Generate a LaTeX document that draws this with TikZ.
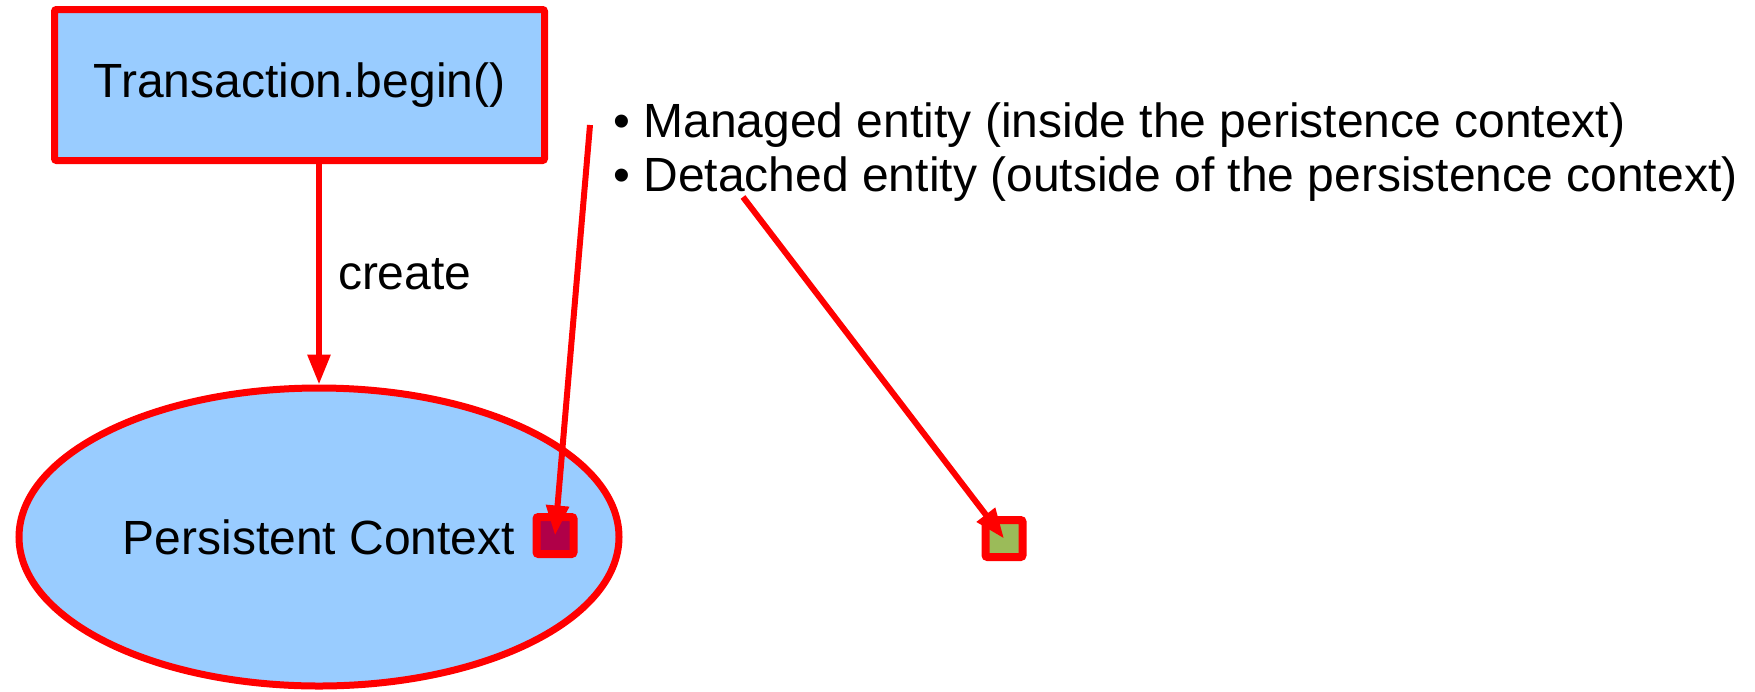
\documentclass[tikz,border=0pt]{standalone}
\usepackage{fontspec}
\setmainfont{Liberation Sans}
\usetikzlibrary{shapes.geometric,arrows.meta}
\definecolor{boxblue}{RGB}{153,204,255}
\definecolor{managedfill}{RGB}{176,0,72}
\definecolor{detachedfill}{RGB}{155,187,89}

\begin{document}
\begin{tikzpicture}[x=0.5pt,y=-0.5pt]
\tikzset{block/.style = {shape=rectangle,draw=red,fill=boxblue,line width=3.5pt,minimum width=245pt,minimum height=75.5pt,rounded corners=1pt}}
\tikzset{context/.style = {shape=ellipse,draw=red,fill=boxblue,line width=3.5pt,minimum width=300pt,minimum height=149pt,inner sep=0pt}}
\tikzset{entity/.style = {shape=rectangle,draw=red,line width=4pt,minimum size=18.5pt,inner sep=0pt,rounded corners=1pt}}
\tikzset{edge/.style = {-{Triangle[width=11pt,length=15pt]},draw=red,line width=3pt}}
\useasboundingbox (0,0) rectangle (1755,691);
\fontsize{24}{27}\selectfont
\node[block] (tx) at (299.5,85) {Transaction.begin()};
\node[context] (ctx) at (319,537) {Persistent Context\hspace{48pt}};
\node[entity,fill=managedfill] (m) at (555,535.5) {};
\node[entity,fill=detachedfill] (d) at (1004,538.5) {};
\node[anchor=base west,inner sep=0pt] (managed) at (613,137) {• Managed entity (inside the peristence context)};
\node[anchor=base west,inner sep=0pt] (detached) at (613,191) {• Detached entity (outside of the persistence context)};
\coordinate (ma) at (590,125);
\coordinate (da) at (743,197);
\draw[edge] (tx.south -| ctx.north) to node[right] {create} (ctx.north);
\draw[edge] (ma) to (m.center);
\draw[edge] (da) to (d.center);
\end{tikzpicture}
\end{document}
